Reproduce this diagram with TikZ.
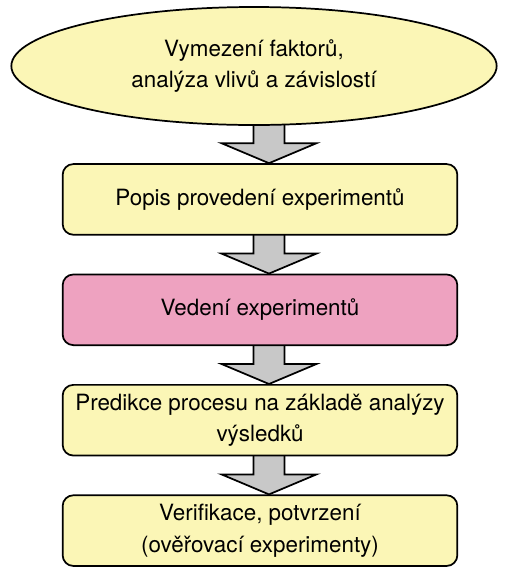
\documentclass[tikz,border=0pt]{standalone}
\usepackage{fontspec}
\setmainfont{TeX Gyre Heros}
\usepackage{xcolor}
\usepackage{tikz}
\usetikzlibrary{positioning,calc,shapes.geometric,backgrounds}

\definecolor{pale}{RGB}{251,246,182}
\definecolor{rose}{RGB}{238,162,192}
\definecolor{shaft}{RGB}{200,200,200}

% block arrow from the bottom of #1 down to the top of #2
\newcommand{\blockarrow}[2]{%
  \filldraw[blockarr] let \p1=(#1.south -| axis), \p2=(#2.north -| axis) in
    (\x1-11.6pt,\y1+4pt) -- (\x1-11.6pt,\y2+15pt) -- (\x1-35.6pt,\y2+15pt)
    -- (\x2,\y2) -- (\x1+35.6pt,\y2+15pt) -- (\x1+11.6pt,\y2+15pt)
    -- (\x1+11.6pt,\y1+4pt) -- cycle;}

\begin{document}
\begin{tikzpicture}[x=0.75pt,y=-0.75pt,
  stage/.style={draw, line width=1.3pt, rounded corners=8pt, fill=pale, align=center,
    minimum width=296pt, minimum height=53pt, inner sep=2pt,
    font=\fontsize{16.8}{23.5}\selectfont},
  oval/.style={stage, ellipse, minimum width=364pt, minimum height=88.5pt},
  blockarr/.style={draw=black, line width=1.3pt, fill=shaft, line join=miter}]
\useasboundingbox (0,0) rectangle (508,569);
\coordinate (axis) at (269,0);
\node[oval] (vym) at (254,66) {Vymezení faktorů,\\ analýza vlivů a závislostí};
\node[stage, below=28pt of vym, xshift=4.5pt] (popis) {Popis provedení experimentů};
\node[stage, fill=rose, below=28.5pt of popis] (vedeni) {Vedení experimentů};
\node[stage, below=28.5pt of vedeni] (pred) {Predikce procesu na základě analýzy\\ výsledků};
\node[stage, below=28.5pt of pred] (ver) {Verifikace, potvrzení\\ (ověřovací experimenty)};
\begin{scope}[on background layer]
  \blockarrow{vym}{popis}
  \blockarrow{popis}{vedeni}
  \blockarrow{vedeni}{pred}
  \blockarrow{pred}{ver}
\end{scope}
\end{tikzpicture}
\end{document}
